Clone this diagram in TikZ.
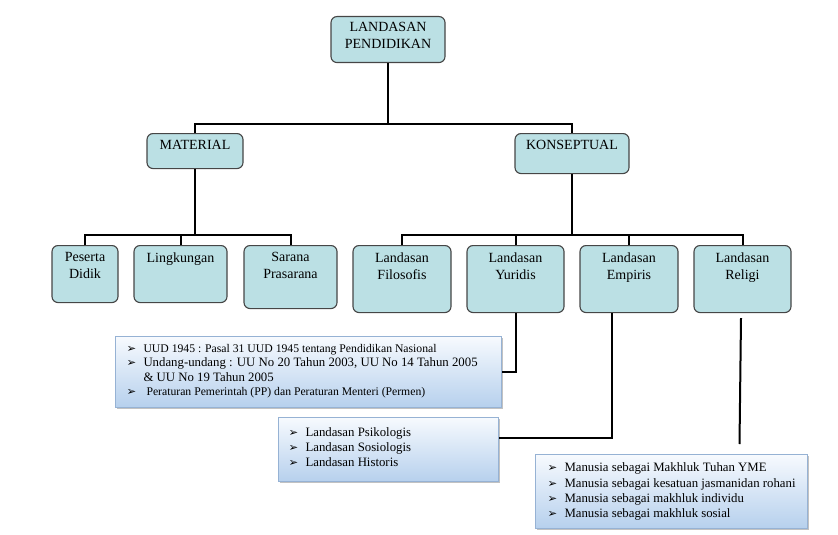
\documentclass[tikz,border=0pt]{standalone}
\usepackage{fontspec}
\setmainfont{Liberation Serif}
\newfontfamily\dejavu{DejaVu Sans}
\usepackage{xcolor}
\usetikzlibrary{calc}
\usetikzlibrary{positioning}
\usetikzlibrary{shadows}

\definecolor{boxfill}{RGB}{187,224,228}
\definecolor{boxline}{RGB}{70,70,70}
\definecolor{listtop}{RGB}{247,250,254}
\definecolor{listbottom}{RGB}{182,208,237}
\definecolor{listline}{RGB}{150,178,212}

\newcommand{\boxtext}[4]{\parbox[c][#2pt][t]{#1pt}{\vskip #3pt\centering\fontsize{14}{17}\selectfont #4\par}}
\newcommand{\bul}{\makebox[17pt][l]{\fontsize{11.5}{11}\dejavu ➢}}

\tikzset{
  tbox/.style={draw=boxline, line width=1.1pt, fill=boxfill, rounded corners=6pt, inner sep=0pt, anchor=north},
  lbox/.style={draw=listline, line width=1pt, top color=listtop, bottom color=listbottom, inner sep=0pt, anchor=north west,
    drop shadow={shadow xshift=1.5pt, shadow yshift=-1.5pt, fill=black!40, opacity=.6}},
  conn/.style={line width=2pt}
}

\begin{document}
\begin{tikzpicture}[x=1pt,y=-1pt]
\useasboundingbox (0,0) rectangle (838,535);

% top levels
\node[tbox] (landasan) at (388,16) {\boxtext{114}{46}{6}{LANDASAN\\PENDIDIKAN}};
\node[tbox] (material) at (195,133) {\boxtext{96}{35}{7}{MATERIAL}};
\node[tbox] (konseptual) at (572,133) {\boxtext{114}{40}{7}{KONSEPTUAL}};

% children
\node[tbox] (peserta) at (85,245) {\boxtext{66}{57}{7}{Peserta\\Didik}};
\node[tbox] (lingkungan) at (180.5,245) {\boxtext{93}{57}{7}{Lingkungan}};
\node[tbox] (sarana) at (290.5,245) {\boxtext{93}{63}{7}{Sarana\\Prasarana}};
\node[tbox] (filosofis) at (402,245) {\boxtext{98}{67}{7}{Landasan\\Filosofis}};
\node[tbox] (yuridis) at (515.5,245) {\boxtext{97}{67}{7}{Landasan\\Yuridis}};
\node[tbox] (empiris) at (629,245) {\boxtext{98}{67}{7}{Landasan\\Empiris}};
\node[tbox] (religi) at (742.5,245) {\boxtext{97}{67}{7}{Landasan\\Religi}};

% lists
\node[lbox] (uud) at (115,336) {\parbox[c][71pt][t]{386pt}{\vskip 8pt\raggedright\leftskip 11pt
  {\fontsize{11.7}{14.3}\selectfont\bul UUD 1945 : Pasal 31 UUD 1945 tentang Pendidikan Nasional\par}
  {\fontsize{12.8}{14.3}\selectfont\bul Undang-undang : UU No 20 Tahun 2003, UU No 14 Tahun 2005\par
  \hspace*{17pt}\& UU No 19 Tahun 2005\par}
  {\fontsize{11.7}{14.3}\selectfont\bul\hspace{3pt}Peraturan Pemerintah (PP) dan Peraturan Menteri (Permen)\par}}};
\node[lbox] (psikologis) at (278,417) {\parbox[c][64pt][t]{220pt}{\vskip 10.5pt\raggedright\leftskip 10pt
  \fontsize{12.8}{15}\selectfont
  \bul Landasan Psikologis\par
  \bul Landasan Sosiologis\par
  \bul Landasan Historis\par}};
\node[lbox] (manusia) at (535,454) {\parbox[c][74pt][t]{272pt}{\vskip 8.5pt\raggedright\leftskip 12pt
  \fontsize{12.8}{15.3}\selectfont
  \bul Manusia sebagai Makhluk Tuhan YME\par
  \bul Manusia sebagai kesatuan jasmanidan rohani\par
  \bul Manusia sebagai makhluk individu\par
  \bul Manusia sebagai makhluk sosial\par}};

% connectors
\coordinate (topbar) at (388,124);
\coordinate (matbar) at (195,235);
\coordinate (konbar) at (572,235);
\draw[conn] (landasan.south) -- (topbar);
\draw[conn] (material.north) |- (topbar) -| (konseptual.north);
\draw[conn] (material.south) -- (matbar);
\draw[conn] (peserta.north) |- (matbar) -| (sarana.north);
\draw[conn] (lingkungan.north) -- (lingkungan.north |- matbar);
\draw[conn] (konseptual.south) -- (konbar);
\draw[conn] (filosofis.north) |- (konbar) -| (religi.north);
\draw[conn] (yuridis.north) -- (yuridis.north |- konbar);
\draw[conn] (empiris.north) -- (empiris.north |- konbar);
\draw[conn] (yuridis.south) |- (uud.east);
\draw[conn] ([xshift=-17pt]empiris.south) |- ([yshift=12pt]psikologis.east);
\draw[conn] ([xshift=-1.5pt,yshift=-5pt]religi.south) -- ($(manusia.north)+(68,-10)$);

\end{tikzpicture}
\end{document}
